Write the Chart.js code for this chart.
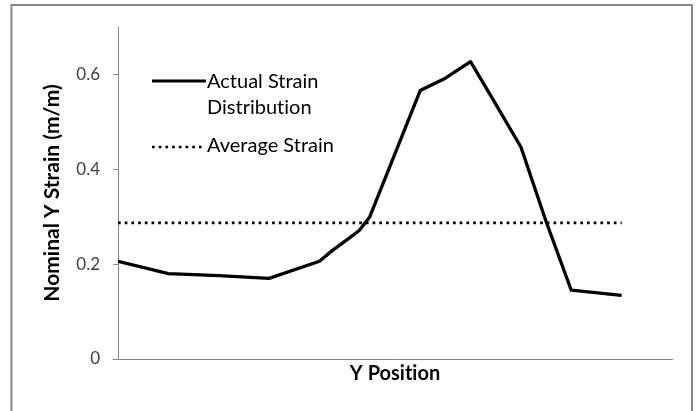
<!DOCTYPE html>
<html>
<head>
<meta charset="utf-8">
<script src="https://cdn.jsdelivr.net/npm/chart.js@4.4.1/dist/chart.umd.min.js"></script>
<style>
  body { margin: 0; background: #fff; }
  canvas { display: block; }
</style>
</head>
<body>
<canvas id="strain-chart" width="696" height="411"></canvas>
<script>
// Dados
var positions = [0, 1, 2, 3, 4, 4.26, 4.53, 4.79, 5, 6, 6.5, 7, 7.43, 8, 8.5, 9, 10]
var actualStrain = [0.206, 0.180, 0.176, 0.170, 0.206, 0.229, 0.250, 0.271, 0.300, 0.566, 0.592, 0.627, 0.550, 0.447, 0.290, 0.145, 0.134]
var avgPositions = [0, 10]
var avgStrain = [0.287, 0.287]
var yTicks = [0, 0.2, 0.4, 0.6]
var yTickLabels = ['0', '0.2', '0.4', '0.6']
var legendLines = [['Actual Strain', 'Distribution'], ['Average Strain']]

var fontName = 'Lato'
var axisGray = '#868686'

// Sem ligaduras "ti" na fonte
var textPlugin = {
  id: 'plainText',
  beforeDraw: function (chart) {
    chart.ctx.textRendering = 'optimizeSpeed'
  }
}

// Moldura externa
var framePlugin = {
  id: 'frame',
  afterDraw: function (chart) {
    var ctx = chart.ctx
    ctx.save()
    ctx.strokeStyle = '#898989'
    ctx.lineWidth = 2
    ctx.strokeRect(11.5, 5, 680.5, 430)
    ctx.restore()
  }
}

// Legenda dentro da área do gráfico
var legendPlugin = {
  id: 'innerLegend',
  afterDraw: function (chart) {
    var ctx = chart.ctx
    ctx.save()
    ctx.textRendering = 'optimizeSpeed'
    ctx.fillStyle = '#000'
    ctx.strokeStyle = '#000'
    ctx.font = '20px ' + fontName
    ctx.textBaseline = 'alphabetic'
    ctx.textAlign = 'left'

    // linha contínua
    ctx.lineWidth = 3
    ctx.beginPath()
    ctx.moveTo(152, 81)
    ctx.lineTo(206, 81)
    ctx.stroke()
    ctx.fillText(legendLines[0][0], 207, 88)
    ctx.fillText(legendLines[0][1], 207, 114)

    // linha pontilhada
    ctx.lineWidth = 2.7
    ctx.setLineDash([2.7, 4])
    ctx.beginPath()
    ctx.moveTo(152, 147)
    ctx.lineTo(205, 147)
    ctx.stroke()
    ctx.setLineDash([])
    ctx.fillText(legendLines[1][0], 207, 152)
    ctx.restore()
  }
}

window.onload = function () {
  var el = document.getElementById('strain-chart')

  var actualData = positions.map(function (p, i) { return { x: p, y: actualStrain[i] } })
  var avgData = avgPositions.map(function (p, i) { return { x: p, y: avgStrain[i] } })

  new Chart(el, {
    type: 'line',
    data: {
      datasets: [{
        label: 'Actual Strain Distribution',
        data: actualData,
        borderColor: '#000',
        borderWidth: 3.3,
        borderJoinStyle: 'round',
        pointRadius: 0,
        tension: 0,
        fill: false
      }, {
        label: 'Average Strain',
        data: avgData,
        borderColor: '#000',
        borderWidth: 2.7,
        borderDash: [2.7, 4],
        borderCapStyle: 'butt',
        pointRadius: 0,
        tension: 0,
        fill: false
      }]
    },
    options: {
      responsive: false,
      animation: false,
      devicePixelRatio: 1,
      layout: {
        padding: { top: 27, right: 24, bottom: 0, left: 0 }
      },
      plugins: {
        legend: { display: false },
        tooltip: { enabled: false }
      },
      scales: {
        x: {
          type: 'linear',
          min: 0,
          max: 11,
          grid: { display: false },
          border: { color: axisGray, width: 1 },
          ticks: { display: false },
          title: {
            display: true,
            text: 'Y Position',
            color: '#000',
            font: { family: fontName, size: 20, weight: 'bold' },
            padding: { top: 0, bottom: 25 }
          },
          afterFit: function (scale) { scale.height = 52 }
        },
        y: {
          min: 0,
          max: 0.7,
          afterBuildTicks: function (scale) {
            scale.ticks = yTicks.map(function (v) { return { value: v } })
          },
          grid: {
            drawOnChartArea: false,
            drawTicks: true,
            tickLength: 5,
            color: axisGray
          },
          border: { color: axisGray, width: 1 },
          ticks: {
            color: '#404040',
            padding: 13,
            font: { family: fontName, size: 17 },
            callback: function (value) {
              var idx = yTicks.indexOf(value)
              return idx >= 0 ? yTickLabels[idx] : ''
            }
          },
          title: {
            display: true,
            text: 'Nominal Y Strain (m/m)',
            color: '#000',
            font: { family: fontName, size: 21, weight: 'bold' },
            padding: { top: 40, bottom: 0 }
          },
          afterFit: function (scale) { scale.width = 118 }
        }
      }
    },
    plugins: [textPlugin, framePlugin, legendPlugin]
  })
}
</script>
</body>
</html>
